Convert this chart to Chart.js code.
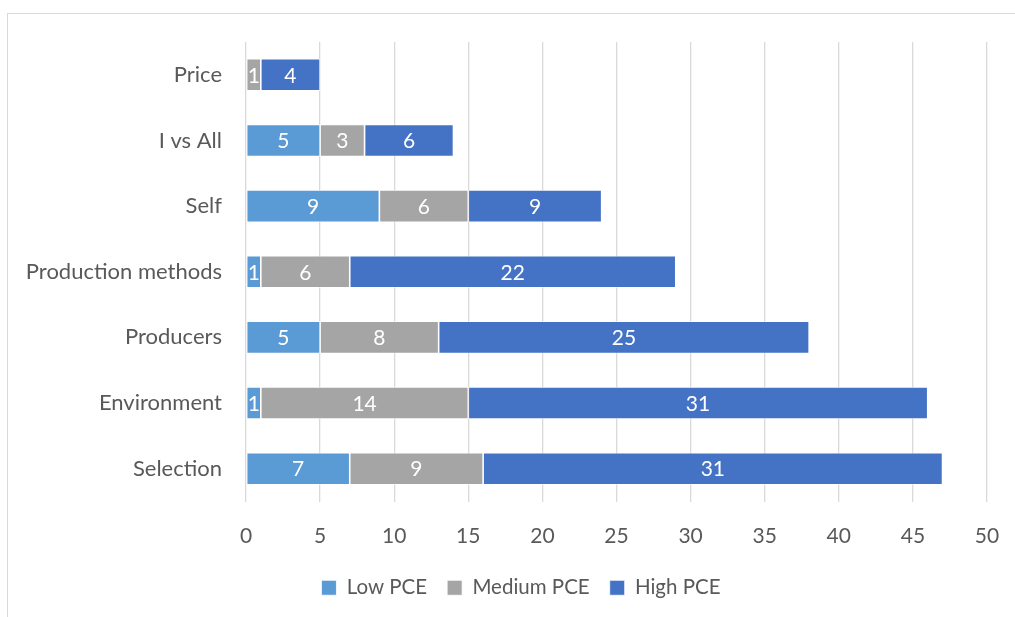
<!DOCTYPE html>
<html>
<head>
<meta charset="utf-8">
<script src="https://cdn.jsdelivr.net/npm/chart.js@4"></script>
<style>
  html, body { margin: 0; padding: 0; background: #fff; }
  #wrap { position: relative; width: 1015px; height: 617px; overflow: hidden; }
  #frame { position: absolute; left: 7px; top: 13px; width: 1100px; height: 700px;
           border-top: 1.5px solid #d9d9d9; border-left: 1.5px solid #d9d9d9; box-sizing: border-box; }
  canvas { position: absolute; left: 0; top: 0; }
</style>
</head>
<body>
<div id="wrap">
  <div id="frame"></div>
  <canvas id="c" width="1015" height="617"></canvas>
</div>
<script>
// Categories, listed top to bottom
const categories = ['Price', 'I vs All', 'Self', 'Production methods', 'Producers', 'Environment', 'Selection'];
// Counts per PCE level
const lowPCE    = [0, 5, 9, 1, 5, 1, 7];
const mediumPCE = [1, 3, 6, 6, 8, 14, 9];
const highPCE   = [4, 6, 9, 22, 25, 31, 31];
const seriesNames = ['Low PCE', 'Medium PCE', 'High PCE'];
const seriesColors = ['#5b9bd5', '#a5a5a5', '#4472c4'];
const xTicks = [0, 5, 10, 15, 20, 25, 30, 35, 40, 45, 50];

const FONT = 'Lato, "Open Sans", sans-serif';
const TEXT = '#595959';
const AXIS_X = 246;          // left edge of the plot area
const LEGEND_CENTER = 521;   // legend is centred on the whole frame, which runs past the right edge

// White value labels centred in each segment
const segmentLabels = {
  id: 'segmentLabels',
  afterDatasetsDraw(chart) {
    const ctx = chart.ctx;
    ctx.save();
    ctx.fillStyle = '#ffffff';
    ctx.font = '21px ' + FONT;
    ctx.textAlign = 'center';
    ctx.textBaseline = 'middle';
    chart.data.datasets.forEach((ds, di) => {
      const meta = chart.getDatasetMeta(di);
      meta.data.forEach((bar, i) => {
        const v = ds.data[i];
        if (!v) return;
        const p = bar.getProps(['x', 'y', 'base'], true);
        ctx.fillText(String(v), (p.x + p.base) / 2, p.y + 1);
      });
    });
    ctx.restore();
  }
};

// Re-centre the legend box horizontally
const legendShift = {
  id: 'legendShift',
  afterLayout(chart) {
    const lg = chart.legend;
    if (!lg) return;
    const d = LEGEND_CENTER - (lg.left + lg.right) / 2;
    lg.left += d;
    lg.right += d;
  }
};

new Chart(document.getElementById('c'), {
  type: 'bar',
  data: {
    labels: categories,
    datasets: [lowPCE, mediumPCE, highPCE].map((d, i) => ({
      label: seriesNames[i],
      data: d,
      backgroundColor: seriesColors[i],
      borderColor: '#ffffff',
      borderWidth: 0.8,
      borderSkipped: false,
      categoryPercentage: 1,
      barPercentage: 0.49
    }))
  },
  options: {
    indexAxis: 'y',
    responsive: false,
    animation: false,
    layout: { padding: { left: 0, right: 28, top: 42, bottom: 9 } },
    scales: {
      x: {
        stacked: true,
        min: 0,
        max: 50,
        afterBuildTicks(scale) { scale.ticks = xTicks.map(v => ({ value: v })); },
        afterFit(scale) { scale.height = 56; scale.paddingLeft = 0; scale.paddingRight = 0; },
        grid: { color: '#d9d9d9', lineWidth: 1.3, drawTicks: false },
        border: { display: false },
        ticks: { color: TEXT, font: { family: FONT, size: 21 }, padding: 22 }
      },
      y: {
        stacked: true,
        afterFit(scale) { scale.width = AXIS_X; },
        grid: { display: false, drawTicks: false },
        border: { display: false },
        ticks: { color: TEXT, font: { family: FONT, size: 22 }, padding: 24 }
      }
    },
    plugins: {
      legend: {
        position: 'bottom',
        labels: {
          color: TEXT,
          font: { family: FONT, size: 20.5 },
          boxWidth: 15,
          boxHeight: 15,
          padding: 20
        }
      },
      tooltip: { enabled: false }
    }
  },
  plugins: [segmentLabels, legendShift]
});
</script>
</body>
</html>
